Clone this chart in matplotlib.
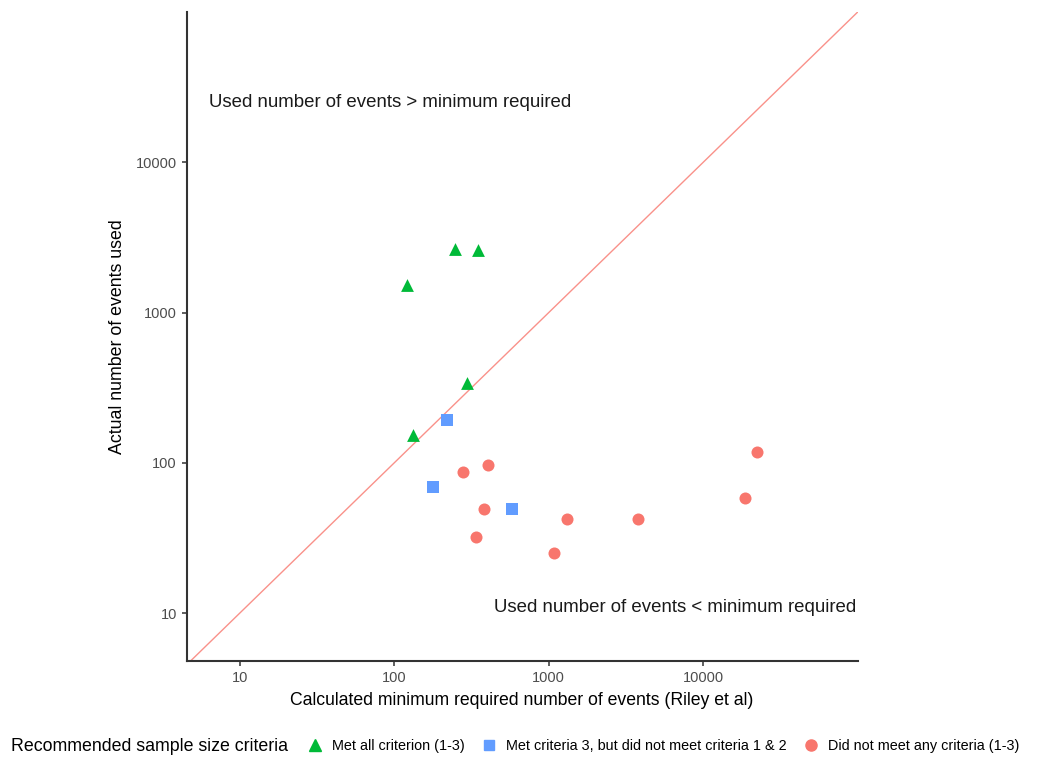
import numpy as np
import matplotlib.pyplot as plt
from matplotlib.lines import Line2D

plt.rcParams['font.family'] = ['Liberation Sans', 'DejaVu Sans']

# Met all criterion (1-3)
met_all_x = [121, 249, 351, 294, 133]
met_all_y = [1530, 2650, 2600, 339, 153]

# Met criteria 3 only
met_3_x = [218, 179, 583]
met_3_y = [193, 69, 49]

# Did not meet any criteria
met_none_x = [277, 402, 384, 336, 1077, 1309, 3784, 18750, 22400]
met_none_y = [87, 97, 49, 32, 25, 42.5, 42.5, 58.5, 118]

ticks = [10, 100, 1000, 10000]
tick_labels = ["10", "100", "1000", "10000"]

green = "#00BA38"
blue = "#619CFF"
red = "#F8766D"


def make_plot():
    fig = plt.figure(figsize=(10.37, 7.57), dpi=100)
    ax = fig.add_axes([0.180, 0.127, 0.647, 0.857])

    ax.set_xscale("log")
    ax.set_yscale("log")
    ax.set_xlim(4.53, 1.0e5)
    ax.set_ylim(4.81, 1.0e5)

    diag = np.array([1, 2e5])
    ax.plot(diag, diag, color=red, linewidth=1.0, alpha=0.8, zorder=1)

    ax.scatter(met_all_x, met_all_y, marker="^", s=85, color=green,
               linewidths=0, zorder=3)
    ax.scatter(met_3_x, met_3_y, marker="s", s=65, color=blue,
               linewidths=0, zorder=3)
    ax.scatter(met_none_x, met_none_y, marker="o", s=75, color=red,
               linewidths=0, zorder=3)

    ax.text(0.034, 0.861, "Used number of events > minimum required",
            fontsize=13.4, color="#1a1a1a", va="center", ha="left",
            transform=ax.transAxes)
    ax.text(0.9985, 0.083, "Used number of events < minimum required",
            fontsize=13.4, color="#1a1a1a", va="center", ha="right",
            transform=ax.transAxes)

    ax.set_xticks(ticks)
    ax.set_xticklabels(tick_labels)
    ax.set_yticks(ticks)
    ax.set_yticklabels(tick_labels)
    ax.minorticks_off()
    ax.tick_params(axis="both", which="major", labelsize=10.5,
                   labelcolor="#4d4d4d", color="#333333",
                   length=3.5, width=1.1, direction="out")

    for side in ["top", "right"]:
        ax.spines[side].set_visible(False)
    for side in ["left", "bottom"]:
        ax.spines[side].set_linewidth(1.5)
        ax.spines[side].set_color("#333333")

    ax.set_xlabel("Calculated minimum required number of events (Riley et al)",
                  fontsize=12.7, labelpad=5)
    ax.set_ylabel("Actual number of events used", fontsize=12.8, labelpad=7)

    handles = [
        Line2D([], [], marker="^", linestyle="", color=green, markersize=9),
        Line2D([], [], marker="s", linestyle="", color=blue, markersize=7.5),
        Line2D([], [], marker="o", linestyle="", color=red, markersize=8),
    ]
    labels = ["Met all criterion (1-3)",
              "Met criteria 3, but did not meet criteria 1 & 2",
              "Did not meet any criteria (1-3)"]

    fig.text(0.011, 0.0145, "Recommended sample size criteria",
             fontsize=12.75, va="center", ha="left")
    fig.legend(handles, labels, loc="center left", ncol=3,
               bbox_to_anchor=(0.2966, 0.0145), frameon=False,
               fontsize=10.4, handletextpad=0.7, columnspacing=1.15,
               handlelength=1.0, borderaxespad=0, borderpad=0)

    fig.savefig("out.png", dpi=100)


if __name__ == '__main__':
    make_plot()
